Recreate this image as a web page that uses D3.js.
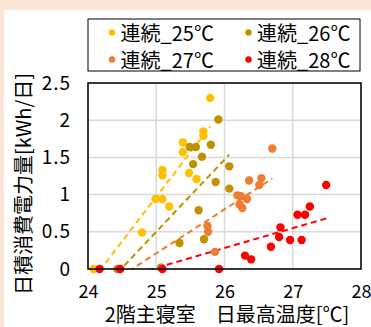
<!DOCTYPE html>
<html><head><meta charset="utf-8">
<script src="https://cdn.jsdelivr.net/npm/d3@7"></script>
<style>
html,body{margin:0;padding:0;background:#FBE5D6;}
svg{display:block;}
text{font-family:"Noto Sans CJK JP","Noto Sans",sans-serif;fill:#000;}
</style></head>
<body><svg id="chart" width="371" height="327"></svg>
<script>
// ---- data ----
const categories = ["連続_25℃", "連続_26℃", "連続_27℃", "連続_28℃"];
const colors = ["#FFC000", "#BF9000", "#ED7D31", "#FF0000"];

const x25 = [24.08, 24.79, 24.99, 25.09, 25.19, 25.09, 25.09, 25.39, 25.39, 25.48, 25.59, 25.69, 25.69, 25.79];
const y25 = [0, 0.49, 0.94, 0.94, 0.84, 1.26, 1.33, 1.57, 1.70, 1.29, 1.21, 1.79, 1.85, 2.30];

const x26 = [24.43, 25.07, 25.34, 25.49, 25.54, 25.58, 25.62, 25.67, 25.70, 25.80, 25.87, 25.91, 26.07, 26.07];
const y26 = [0, 0.02, 0.35, 1.64, 1.41, 1.64, 0.79, 1.51, 0.40, 1.67, 1.17, 2.01, 1.08, 1.38];

const x27 = [24.47, 25.75, 25.76, 25.86, 26.19, 26.22, 26.24, 26.26, 26.33, 26.36, 26.51, 26.54, 26.70];
const y27 = [0, 0.58, 0.50, 0.23, 0.99, 0.87, 0.98, 0.82, 0.94, 1.19, 1.13, 1.22, 1.62];

const x28 = [24.17, 24.47, 25.09, 25.92, 26.30, 26.39, 26.68, 26.80, 26.82, 26.96, 27.07, 27.13, 27.18, 27.25, 27.49];
const y28 = [0, 0, 0, 0, 0.18, 0.13, 0.30, 0.43, 0.56, 0.39, 0.73, 0.39, 0.73, 0.84, 1.13];

// linear trend lines (slope, intercept) per series
const trendSlope = [1.196, 0.97, 0.592, 0.267];
const trendIntercept = [-28.93, -23.75, -14.59, -6.66];

const xTicks = [24, 25, 26, 27, 28];
const xTickLabels = ["24", "25", "26", "27", "28"];
const yTicks = [0, 0.5, 1, 1.5, 2, 2.5];
const yTickLabels = ["0", "0.5", "1", "1.5", "2", "2.5"];
const xTitle = "2階主寝室　日最高温度[℃]";
const yTitle = "日積消費電力量[kWh/日]";

const seriesX = [x25, x26, x27, x28];
const seriesY = [y25, y26, y27, y28];

// ---- drawing ----
const svg = d3.select("#chart");
svg.append("rect").attr("x", 0).attr("y", 0).attr("width", 371).attr("height", 327).attr("fill", "#FBE5D6");
svg.append("rect").attr("x", 4).attr("y", 10).attr("width", 367).attr("height", 317).attr("fill", "#FFFFFF");

const L = 88, R = 361, T = 83, B = 269;
const x = d3.scaleLinear().domain([24, 28]).range([L, R]);
const y = d3.scaleLinear().domain([0, 2.5]).range([B, T]);

// gridlines
const grid = svg.append("g");
grid.selectAll("line.v").data(xTicks).join("line")
  .attr("x1", d => x(d)).attr("x2", d => x(d)).attr("y1", T).attr("y2", B)
  .attr("stroke", "#D9D9D9").attr("stroke-width", 1.5);
grid.selectAll("line.h").data(yTicks).join("line")
  .attr("x1", L).attr("x2", R).attr("y1", d => y(d)).attr("y2", d => y(d))
  .attr("stroke", "#D9D9D9").attr("stroke-width", 1.5);

// clip
svg.append("clipPath").attr("id", "plotclip").append("rect")
  .attr("x", L).attr("y", T).attr("width", R - L).attr("height", B - T);

// trend lines
const tl = svg.append("g").attr("clip-path", "url(#plotclip)");
categories.forEach((c, i) => {
  const xs = seriesX[i];
  const x0 = d3.min(xs), x1 = d3.max(xs);
  tl.append("line")
    .attr("x1", x(x0)).attr("y1", y(trendSlope[i] * x0 + trendIntercept[i]))
    .attr("x2", x(x1)).attr("y2", y(trendSlope[i] * x1 + trendIntercept[i]))
    .attr("stroke", colors[i]).attr("stroke-width", 2)
    .attr("stroke-dasharray", "6,4");
});

// points
categories.forEach((c, i) => {
  const pts = seriesX[i].map((v, j) => [v, seriesY[i][j]]);
  svg.append("g").selectAll("circle").data(pts).join("circle")
    .attr("cx", d => x(d[0])).attr("cy", d => y(d[1])).attr("r", 4.2)
    .attr("fill", colors[i]);
});

// frame
svg.append("rect").attr("x", L).attr("y", T).attr("width", R - L).attr("height", B - T)
  .attr("fill", "none").attr("stroke", "#000").attr("stroke-width", 1.5);

// axes
const yAxis = d3.axisLeft(y).tickValues(yTicks).tickSize(0).tickPadding(17)
  .tickFormat((d, i) => yTickLabels[i]);
const gy = svg.append("g").attr("transform", `translate(${L},0)`).call(yAxis);
gy.select(".domain").remove();
gy.selectAll("text").attr("font-size", 19).attr("letter-spacing", 1).attr("font-family", '"Noto Sans CJK JP",sans-serif');

const xAxis = d3.axisBottom(x).tickValues(xTicks).tickSize(0).tickPadding(16)
  .tickFormat((d, i) => xTickLabels[i]);
const gx = svg.append("g").attr("transform", `translate(0,${B})`).call(xAxis);
gx.select(".domain").remove();
gx.selectAll("text").attr("font-size", 18).attr("font-family", '"Noto Sans CJK JP",sans-serif');

// titles
svg.append("text").attr("x", 227).attr("y", 322).attr("text-anchor", "middle")
  .attr("font-size", 20).text(xTitle);
svg.append("text").attr("transform", "translate(22,184) rotate(-90)")
  .attr("text-anchor", "middle").attr("dominant-baseline", "central")
  .attr("font-size", 20).text(yTitle);

// legend
svg.append("rect").attr("x", 88).attr("y", 19).attr("width", 272).attr("height", 52)
  .attr("fill", "#fff").attr("stroke", "#000").attr("stroke-width", 1);
const legPos = [[112, 32.5], [248.5, 32.5], [112, 59.5], [248.5, 59.5]];
categories.forEach((c, i) => {
  const g = svg.append("g").attr("transform", `translate(${legPos[i][0]},${legPos[i][1]})`);
  g.append("circle").attr("r", 3.2).attr("fill", colors[i]);
  g.append("text").attr("x", 8.5).attr("dominant-baseline", "central").attr("font-size", 20).text(c);
});
</script></body></html>
